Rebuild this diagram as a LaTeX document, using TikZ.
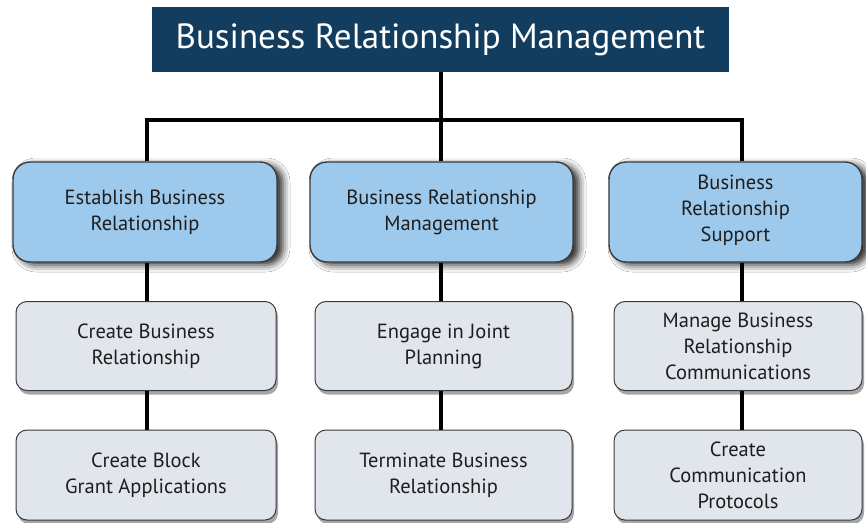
\documentclass[tikz,border=0pt]{standalone}
\usepackage{fontspec}
\setmainfont{PT Sans}
\usetikzlibrary{shadows.blur}
\definecolor{navy}{HTML}{133D5E}
\definecolor{bluebox}{HTML}{9DC9EC}
\definecolor{graybox}{HTML}{E1E5EC}
\definecolor{edge}{HTML}{3A3A3A}
\definecolor{txt}{HTML}{1E1E1E}
\begin{document}
\begin{tikzpicture}[x=1pt,y=-1pt,
  titlebox/.style={fill=navy,text=white,minimum width=577pt,minimum height=65pt,inner sep=0pt,font=\fontsize{35}{40}\selectfont},
  bluenode/.style={draw=edge,line width=1.4pt,fill=bluebox,rounded corners=17pt,text=txt,align=center,
    font=\fontsize{20.5}{26}\selectfont,inner sep=0pt,
    blur shadow={shadow xshift=6pt,shadow yshift=-3pt,shadow blur radius=7pt,shadow opacity=85}},
  graynode/.style={draw=edge,line width=1pt,fill=graybox,rounded corners=11pt,text=txt,align=center,
    font=\fontsize{20.5}{26}\selectfont,inner sep=0pt,
    drop shadow={shadow xshift=2pt,shadow yshift=-4pt,fill=black!35,opacity=1}},
  conn/.style={line width=3.5pt,black}
]
\useasboundingbox (0,0) rectangle (866,522);
\fill[white] (0,0) rectangle (866,522);
\node[titlebox] (title) at (440.5,39.5) {Business Relationship Management};
\coordinate (busL) at (147,120);
\coordinate (busM) at (441,120);
\coordinate (busR) at (742,120);
\node[bluenode,minimum width=264pt,minimum height=100pt] (b1) at (145,212) {Establish Business\\Relationship};
\node[bluenode,minimum width=263pt,minimum height=100pt] (b2) at (441.5,212) {Business Relationship\\Management};
\node[bluenode,minimum width=253pt,minimum height=100pt] (b3) at (735.5,212) {Business\\Relationship\\Support\vphantom{g}\\[-18pt]};
\node[graynode,minimum width=260pt,minimum height=89pt] (g1) at (146,346) {Create Business\\Relationship};
\node[graynode,minimum width=257pt,minimum height=89pt] (g2) at (443.5,346) {Engage in Joint\\Planning};
\node[graynode,minimum width=248pt,minimum height=89pt] (g3) at (738,346) {Manage Business\\Relationship\\Communications};
\node[graynode,minimum width=260pt,minimum height=90pt] (h1) at (146,475) {Create Block\\Grant Applications};
\node[graynode,minimum width=257pt,minimum height=90pt] (h2) at (443.5,475) {Terminate Business\\Relationship};
\node[graynode,minimum width=248pt,minimum height=90pt] (h3) at (738,475) {Create\\Communication\\Protocols};
\draw[conn] (title.south -| busM) -- (busM);
\draw[conn,line cap=rect] (busL) -- (busR);
\draw[conn] (busL) -- (busL |- b1.north);
\draw[conn] (busM) -- (busM |- b2.north);
\draw[conn] (busR) -- (busR |- b3.north);
\draw[conn] (b1.south -| busL) -- (busL |- g1.north);
\draw[conn] (b2.south -| busM) -- (busM |- g2.north);
\draw[conn] (b3.south -| busR) -- (busR |- g3.north);
\draw[conn] (g1.south -| busL) -- (busL |- h1.north);
\draw[conn] (g2.south -| busM) -- (busM |- h2.north);
\draw[conn] (g3.south -| busR) -- (busR |- h3.north);
\end{tikzpicture}
\end{document}
